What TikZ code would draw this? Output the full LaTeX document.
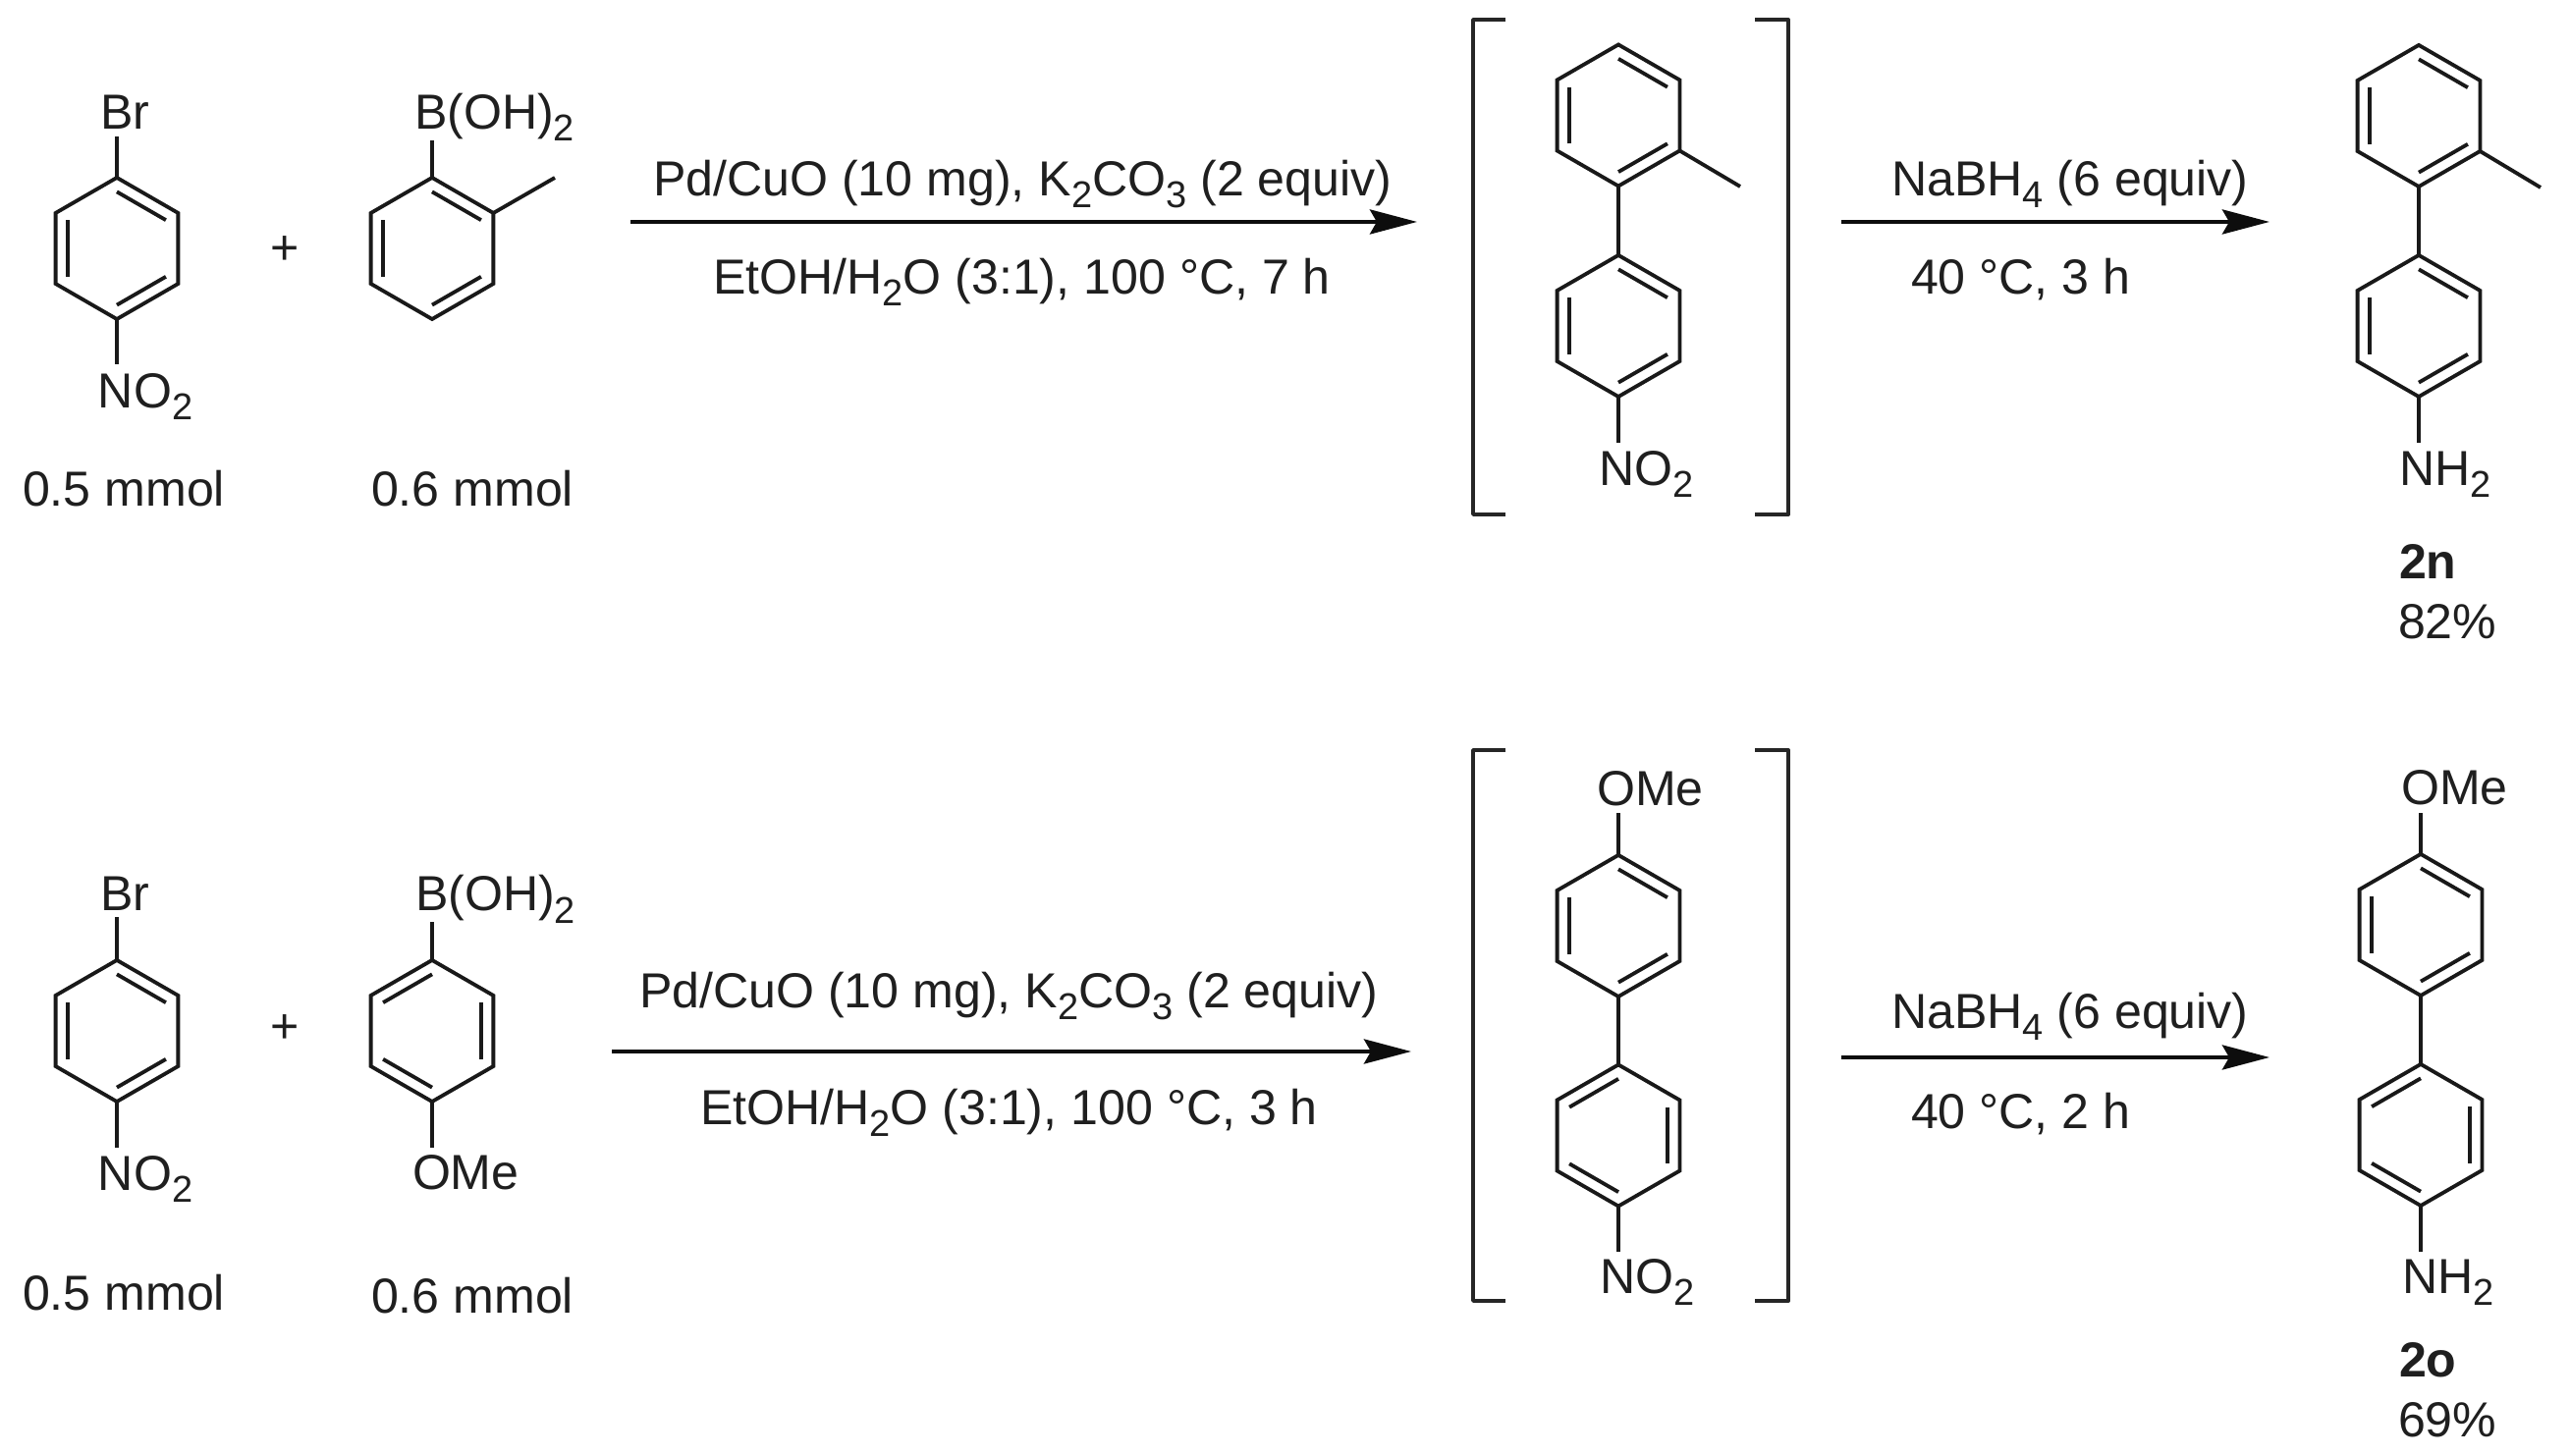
\documentclass[tikz,border=0pt]{standalone}
\usepackage{fontspec}
\setmainfont{Liberation Sans}
\usetikzlibrary{arrows.meta}
\newcommand{\sbs}[1]{\raisebox{-0.24em}{\fontsize{10.8pt}{12pt}\selectfont #1}}
\tikzset{
  bond/.style={line width=0.038cm,line cap=butt,line join=miter,draw=black!90},
  rxnarrow/.style={line width=0.042cm,draw=black!95,-{Stealth[length=4.8mm,width=2.5mm,inset=0.7mm]}},
  chem/.style={anchor=base west,inner sep=0pt,outer sep=0pt,xshift=-0.02cm,yshift=-0.015cm,font=\fontsize{14.25pt}{16pt}\selectfont,text=black!88},
  mybracket/.style={line width=0.038cm,draw=black!85,line join=round}
}
% name, cx, cy, angular offset of the inner bonds (0 or 60)
\newcommand{\hexring}[4]{%
  \begin{scope}[shift={(#2,#3)}]
    \coordinate (#1-t) at (90:0.72cm);
    \coordinate (#1-b) at (270:0.72cm);
    \coordinate (#1-ur) at (30:0.72cm);
    \coordinate (#1-ul) at (150:0.72cm);
    \draw[bond] (90:0.72cm)--(30:0.72cm)--(-30:0.72cm)--(-90:0.72cm)--(-150:0.72cm)--(150:0.72cm)--cycle;
    \foreach \a in {90,210,330}{
      \pgfmathsetmacro{\aa}{\a+#4}
      \pgfmathsetmacro{\bb}{\a+#4-60}
      \draw[bond] (\aa:0.576cm)--(\bb:0.576cm);
    }
  \end{scope}}
\begin{document}
\begin{tikzpicture}[x=0.01cm,y=-0.01cm]
\useasboundingbox (0,0) rectangle (2617,1483);
\fill[white] (0,0) rectangle (2617,1483);

% ---------- Row 1 reactants
\hexring{ra}{119}{253}{0}
\hexring{rb}{440}{253}{0}
\node[chem] (ra-br) at (104,130) {Br};
\node[chem] (ra-no) at (102,414) {NO\sbs{2}};
\node[chem] (rb-bo) at (424,130) {B(OH)\sbs{2}};
\coordinate (ra-e1) at (119,139);
\coordinate (ra-e2) at (119,371);
\coordinate (rb-e1) at (440,143);
\coordinate (rb-e2) at (565,181);
\draw[bond] (ra-t)--(ra-e1);
\draw[bond] (ra-b)--(ra-e2);
\draw[bond] (rb-t)--(rb-e1);
\draw[bond] (rb-ur)--(rb-e2);
\node[chem,anchor=center] (plus1) at (292,254) {+};
\node[chem] (m1) at (25,514) {0.5 mmol};
\node[chem] (m2) at (380,514) {0.6 mmol};

% Row 1 arrow 1
\coordinate (a1s) at (642,226);
\coordinate (a1e) at (1443,226);
\draw[rxnarrow] (a1s)--(a1e);
\node[chem] (t1) at (667,198) {Pd/CuO (10 mg), K\sbs{2}CO\sbs{3} (2 equiv)};
\node[chem] (t2) at (728,298) {EtOH/H\sbs{2}O (3:1), 100 °C, 7 h};

% Row 1 intermediate
\hexring{ia}{1648}{117.5}{0}
\hexring{ib}{1648}{332}{0}
\draw[bond] (ia-b)--(ib-t);
\coordinate (ia-e) at (1772,190);
\draw[bond] (ia-ur|-0,153.5)--(ia-e);
\coordinate (ib-e) at (1648,451);
\draw[bond] (ib-b)--(ib-e);
\node[chem] (ib-no) at (1630,493) {NO\sbs{2}};
\draw[mybracket] (1533,20)--(1500,20)--(1500,524)--(1533,524);
\draw[mybracket] (1787,20)--(1821,20)--(1821,524)--(1787,524);

% Row 1 arrow 2
\coordinate (a2s) at (1875,226);
\coordinate (a2e) at (2311,226);
\draw[rxnarrow] (a2s)--(a2e);
\node[chem] (t3) at (1928,198) {NaBH\sbs{4} (6 equiv)};
\node[chem] (t4) at (1948,298) {40 °C, 3 h};

% Row 1 product
\hexring{pa}{2463}{118}{0}
\hexring{pb}{2463}{332}{0}
\draw[bond] (pa-b)--(pb-t);
\coordinate (pa-e) at (2587,191);
\draw[bond] (pa-ur|-0,154)--(pa-e);
\coordinate (pb-e) at (2463,451);
\draw[bond] (pb-b)--(pb-e);
\node[chem] (pb-nh) at (2445,493) {NH\sbs{2}};
\node[chem] (p-n) at (2445,588) {\textbf{2n}};
\node[chem] (p-y) at (2444,649) {82\%};

% ---------- Row 2 reactants
\hexring{sa}{119}{1050}{0}
\hexring{sb}{440}{1050}{60}
\node[chem] (sa-br) at (104,926.5) {Br};
\node[chem] (sa-no) at (102,1211) {NO\sbs{2}};
\node[chem] (sb-bo) at (425,926.5) {B(OH)\sbs{2}};
\node[chem] (sb-om) at (422,1210) {OMe};
\coordinate (sa-e1) at (119,934);
\coordinate (sa-e2) at (119,1169);
\coordinate (sb-e1) at (440,939);
\coordinate (sb-e2) at (440,1169);
\draw[bond] (sa-t)--(sa-e1);
\draw[bond] (sa-b)--(sa-e2);
\draw[bond] (sb-t)--(sb-e1);
\draw[bond] (sb-b)--(sb-e2);
\node[chem,anchor=center] (plus2) at (292,1047) {+};
\node[chem] (m3) at (25,1333) {0.5 mmol};
\node[chem] (m4) at (380,1336) {0.6 mmol};

% Row 2 arrow 1
\coordinate (b1s) at (623,1071);
\coordinate (b1e) at (1437,1071);
\draw[rxnarrow] (b1s)--(b1e);
\node[chem] (t5) at (653,1025) {Pd/CuO (10 mg), K\sbs{2}CO\sbs{3} (2 equiv)};
\node[chem] (t6) at (715,1144) {EtOH/H\sbs{2}O (3:1), 100 °C, 3 h};

% Row 2 intermediate
\hexring{ja}{1648}{943}{0}
\hexring{jb}{1648}{1156.5}{60}
\draw[bond] (ja-b)--(jb-t);
\coordinate (ja-e) at (1648,828);
\draw[bond] (ja-t)--(ja-e);
\coordinate (jb-e) at (1648,1275);
\draw[bond] (jb-b)--(jb-e);
\node[chem] (ja-om) at (1628,819) {OMe};
\node[chem] (jb-no) at (1631,1316) {NO\sbs{2}};
\draw[mybracket] (1533,764)--(1500,764)--(1500,1325)--(1533,1325);
\draw[mybracket] (1787,764)--(1821,764)--(1821,1325)--(1787,1325);

% Row 2 arrow 2
\coordinate (b2s) at (1875,1077);
\coordinate (b2e) at (2311,1077);
\draw[rxnarrow] (b2s)--(b2e);
\node[chem] (t7) at (1928,1046) {NaBH\sbs{4} (6 equiv)};
\node[chem] (t8) at (1948,1148) {40 °C, 2 h};

% Row 2 product
\hexring{qa}{2465}{942}{0}
\hexring{qb}{2465}{1156}{60}
\draw[bond] (qa-b)--(qb-t);
\coordinate (qa-e) at (2465,828);
\draw[bond] (qa-t)--(qa-e);
\coordinate (qb-e) at (2465,1275);
\draw[bond] (qb-b)--(qb-e);
\node[chem] (qa-om) at (2447,818) {OMe};
\node[chem] (qb-nh) at (2448,1316) {NH\sbs{2}};
\node[chem] (q-n) at (2445,1401) {\textbf{2o}};
\node[chem] (q-y) at (2444,1462) {69\%};
\end{tikzpicture}
\end{document}
